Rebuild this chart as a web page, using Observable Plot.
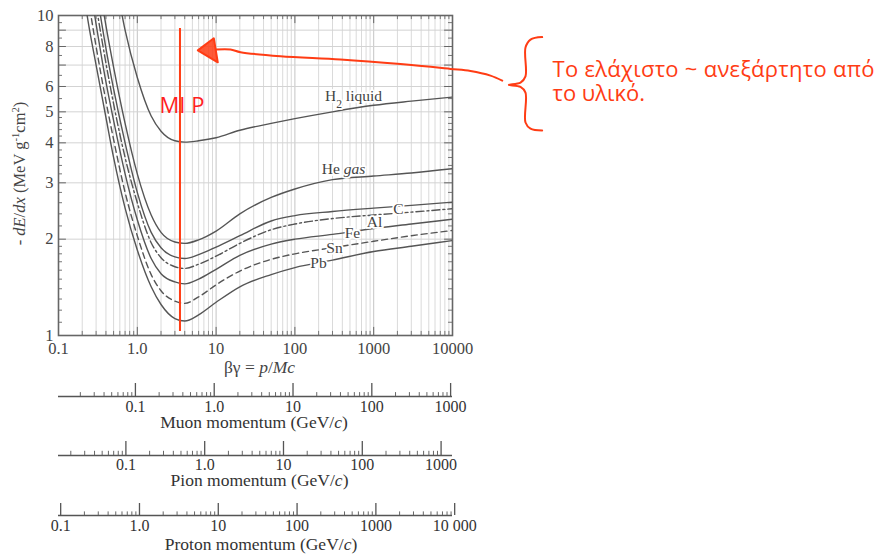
<!DOCTYPE html>
<html><head><meta charset="utf-8">
<script src="https://cdn.jsdelivr.net/npm/d3@7"></script>
<script src="https://cdn.jsdelivr.net/npm/@observablehq/plot@0.6"></script>
<style>
body{margin:0;background:#fff;}
#wrap{position:relative;width:882px;height:557px;overflow:hidden;background:#fff}
#wrap > svg{position:absolute;left:0;}
</style></head><body><div id="wrap"></div>
<script>
// ---- data ----
const betaGamma = [0.2, 0.25, 0.3, 0.4, 0.5, 0.7, 1, 1.5, 2, 3, 4, 6, 10, 20, 50, 100, 300, 1000, 3000, 10000];
const H2 = [65, 44, 30, 19, 14, 9.0, 6.4, 4.85, 4.35, 4.06, 4.02, 4.06, 4.15, 4.38, 4.6, 4.76, 5.0, 5.24, 5.4, 5.56];
const He = [30, 20, 14.5, 9.3, 6.9, 4.6, 3.2, 2.38, 2.1, 1.96, 1.94, 1.99, 2.12, 2.4, 2.7, 2.87, 3.07, 3.15, 3.22, 3.32];
const C  = [25, 16.5, 12.2, 7.9, 5.9, 4.0, 2.8, 2.1, 1.88, 1.76, 1.74, 1.79, 1.89, 2.05, 2.28, 2.37, 2.44, 2.5, 2.55, 2.61];
const Al = [21, 14.5, 10.8, 7.1, 5.3, 3.6, 2.6, 1.95, 1.75, 1.64, 1.62, 1.67, 1.77, 1.94, 2.14, 2.23, 2.32, 2.38, 2.43, 2.49];
const Fe = [18, 12.5, 9.4, 6.2, 4.7, 3.2, 2.3, 1.74, 1.56, 1.47, 1.45, 1.5, 1.61, 1.78, 1.93, 2.0, 2.07, 2.16, 2.23, 2.31];
const Sn = [15, 10.5, 8.0, 5.4, 4.1, 2.8, 2.05, 1.55, 1.38, 1.28, 1.26, 1.32, 1.44, 1.59, 1.73, 1.8, 1.88, 1.97, 2.05, 2.13];
const Pb = [12.5, 8.9, 7.0, 4.8, 3.6, 2.5, 1.85, 1.42, 1.25, 1.13, 1.11, 1.16, 1.27, 1.42, 1.55, 1.63, 1.72, 1.83, 1.9, 1.98];

const materials = ["H2 liquid", "He gas", "C", "Al", "Fe", "Sn", "Pb"];
const series = [H2, He, C, Al, Fe, Sn, Pb];
const dashes = [null, null, null, "8,3,2,3", null, "6,4", null];
const labelBG = [554, 414, 2065, 1023, 538, 318, 199];
const labelDE = [5.62, 3.32, 2.48, 2.27, 2.09, 1.876, 1.685];

const xMajor = [0.1, 1, 10, 100, 1000, 10000];
const xMajorLabels = ["0.1", "1.0", "10", "100", "1000", "10000"];
const yLabels = [1, 2, 3, 4, 5, 6, 8, 10];
const yGrid = [1, 2, 3, 4, 5, 6, 7, 8, 9, 10];
const xTitle = "βγ = p/Mc";
const yTitle = "- dE/dx (MeV g-1cm2)";

// momentum axes
const muonMass = 0.10566, pionMass = 0.13957, protonMass = 0.93827;
const pMajor = [0.1, 1, 10, 100, 1000];
const pMajorLabels = ["0.1", "1.0", "10", "100", "1000"];
const protonMajor = [0.1, 1, 10, 100, 1000, 10000];
const protonMajorLabels = ["0.1", "1.0", "10", "100", "1000", "10 000"];

// annotation (data coordinates)
const mipBG = 3.48, mipTop = 9.1, mipBottom = 1.03;
const mipText = "MI P", mipTextBG = 3.69, mipTextDE = 4.95;
const arrowBG = [42760, 30340, 16910, 9440, 2188, 379, 65.6, 20.4, 15.2, 10.1];
const arrowDE = [6.26, 6.49, 6.71, 6.81, 7.05, 7.29, 7.46, 7.68, 7.83, 7.83];
const headBG = [5.86, 9.35, 10.5, 5.86];
const headDE = [7.78, 8.49, 7.14, 7.78];
const braceBG = [137400, 97700, 84400, 84400, 72950, 51800, 72950, 84400, 84400, 97700, 137400];
const braceDE = [8.56, 8.41, 7.94, 6.45, 6.17, 6.07, 5.98, 5.74, 4.63, 4.43, 4.37];
const noteLines = ["Το ελάχιστο ~ ανεξάρτητο από", "το υλικό."];
const noteBG = 185800, noteDE = [6.42, 5.42];

// ---- helpers ----
const RED = "#ff3c14";
const SERIF = "'Liberation Serif', 'DejaVu Serif', 'Times New Roman', serif";
function minorsIn(lo, hi) {
  const out = [];
  for (let e = -3; e <= 5; e++) for (let k = 2; k <= 9; k++) {
    const v = k * Math.pow(10, e);
    if (v > lo * 1.0001 && v < hi * 0.9999) out.push(v);
  }
  return out;
}
const xMinor = minorsIn(0.1, 10000);
const yMinor = [];
for (let v = 1.1; v < 1.95; v += 0.1) yMinor.push(+v.toFixed(2));
for (let v = 2.2; v < 4.95; v += 0.2) if (Math.abs(v - Math.round(v)) > 0.05) yMinor.push(+v.toFixed(2));
for (let v = 5.5; v < 10; v += 1) yMinor.push(v);

const curveRows = [];
materials.forEach((m, j) => betaGamma.forEach((bg, i) => curveRows.push({material: m, bg, dedx: series[j][i]})));
const xLab = new Map(xMajor.map((d, i) => [d, xMajorLabels[i]]));

const wrap = document.getElementById("wrap");

const curveMarks = materials.map((m, j) =>
  Plot.line(curveRows.filter(r => r.material === m), {
    x: "bg", y: "dedx", stroke: "#555", strokeWidth: 1.4, curve: "monotone-x",
    strokeDasharray: dashes[j] ?? undefined, clip: true
  })
);

const main = Plot.plot({
  width: 882, height: 380, marginLeft: 58, marginRight: 430, marginTop: 15, marginBottom: 45,
  x: {type: "log", domain: [0.1, 10000]},
  y: {type: "log", domain: [1, 10]},
  style: {fontFamily: SERIF, fontSize: "16.5px", color: "#444", background: "transparent", overflow: "visible"},
  marks: [
    Plot.ruleX(xMinor, {stroke: "#dadada", strokeWidth: 1}),
    Plot.ruleX(xMajor, {stroke: "#c4c4c4", strokeWidth: 1}),
    Plot.ruleY(yGrid, {stroke: "#d3d3d3", strokeWidth: 1}),
    // inner ticks
    Plot.ruleX(xMajor, {y1: 1, y2: 1.06, stroke: "#666"}),
    Plot.ruleX(xMinor, {y1: 1, y2: 1.03, stroke: "#777"}),
    Plot.ruleX(xMajor, {y1: 10 / 1.06, y2: 10, stroke: "#666"}),
    Plot.ruleX(xMinor, {y1: 10 / 1.03, y2: 10, stroke: "#777"}),
    Plot.ruleY(yGrid, {x1: 0.1, x2: 0.1 * 1.26, stroke: "#666"}),
    Plot.ruleY(yMinor, {x1: 0.1, x2: 0.1 * 1.124, stroke: "#777"}),
    Plot.ruleY(yGrid, {x1: 10000 / 1.26, x2: 10000, stroke: "#666"}),
    Plot.ruleY(yMinor, {x1: 10000 / 1.124, x2: 10000, stroke: "#777"}),
    Plot.frame({stroke: "#666", strokeWidth: 1.6}),
    ...curveMarks,
    Plot.text(materials, {x: (d, i) => labelBG[i], y: (d, i) => labelDE[i], text: d => d,
      fontSize: 15.5, fill: "#444", stroke: "white", strokeWidth: 3.5}),
    Plot.axisX({ticks: xMajor, tickSize: 0, tickPadding: 7, tickFormat: d => xLab.get(d), label: null}),
    Plot.axisY({ticks: yLabels, tickSize: 0, tickPadding: 5, tickFormat: d => String(d), label: null}),
    Plot.text([xTitle], {text: d => d, frameAnchor: "bottom", dy: 32, dx: 4, fontSize: 17.5, lineAnchor: "middle"}),
    Plot.text([yTitle], {text: d => d, frameAnchor: "left", dx: -39, dy: -2, rotate: -90, fontSize: 16.5,
      textAnchor: "middle", lineAnchor: "middle"}),
    // annotations
    Plot.ruleX([mipBG], {y1: mipBottom, y2: mipTop, stroke: RED, strokeWidth: 2}),
    Plot.text([mipText], {x: mipTextBG, y: mipTextDE, text: d => d, fill: "#ff1f1f",
      fontFamily: "'Open Sans', 'Noto Sans', sans-serif", fontSize: 22, lineAnchor: "bottom"}),
    Plot.line(arrowBG.map((b, i) => ({b, e: arrowDE[i]})), {x: "b", y: "e", stroke: RED, strokeWidth: 2, curve: "catmull-rom"}),
    Plot.line(headBG.map((b, i) => ({b, e: headDE[i]})), {x: "b", y: "e", stroke: RED, strokeWidth: 2, fill: RED, fillOpacity: 0.85}),
    Plot.line(braceBG.map((b, i) => ({b, e: braceDE[i]})), {x: "b", y: "e", stroke: RED, strokeWidth: 2, curve: "catmull-rom"}),
    Plot.text(noteLines, {x: noteBG, y: (d, i) => noteDE[i], text: d => d, fill: RED, textAnchor: "start",
      lineAnchor: "bottom", fontFamily: "'Open Sans', 'Noto Sans', sans-serif", fontSize: 22})
  ]
});
main.style.top = "0px";
wrap.appendChild(main);

function momentumAxis({mass, majors, labels, title, lineY, tickH, labelDy, titleDy, titleDx}) {
  const h = 70;
  const minors = minorsIn(0.1 * mass * 0.999, 10000 * mass);
  const svg = Plot.plot({
    width: 882, height: h, marginLeft: 58, marginRight: 430, marginTop: 5, marginBottom: h - 5 - tickH,
    x: {type: "log", domain: [0.1 * mass, 10000 * mass], axis: null},
    y: {domain: [0, 1], axis: null},
    style: {fontFamily: SERIF, fontSize: "16px", color: "#333", background: "transparent", overflow: "visible"},
    marks: [
      Plot.ruleY([0], {stroke: "#555", strokeWidth: 1.5}),
      Plot.ruleX(majors, {y1: 0, y2: 1, stroke: "#555", strokeWidth: 1.3}),
      Plot.ruleX(minors, {y1: 0, y2: 0.3, stroke: "#666"}),
      Plot.text(majors, {x: d => d, y: 0, text: (d, i) => labels[i], dy: labelDy, lineAnchor: "middle"}),
      Plot.text([title], {text: d => d, frameAnchor: "bottom", dy: titleDy, dx: titleDx, fontSize: 17.5, lineAnchor: "middle"})
    ]
  });
  svg.style.top = (lineY - 5 - tickH) + "px";
  wrap.appendChild(svg);
  return svg;
}
momentumAxis({mass: muonMass, majors: pMajor, labels: pMajorLabels, title: "Muon momentum (GeV/c)", lineY: 396, tickH: 13, labelDy: 10, titleDy: 25.5, titleDx: -1.5});
momentumAxis({mass: pionMass, majors: pMajor, labels: pMajorLabels, title: "Pion momentum (GeV/c)", lineY: 455, tickH: 14, labelDy: 9.5, titleDy: 25, titleDx: 4});
momentumAxis({mass: protonMass, majors: protonMajor, labels: protonMajorLabels, title: "Proton momentum (GeV/c)", lineY: 515, tickH: 12, labelDy: 10, titleDy: 29, titleDx: 5.5});

// rich text (italics, sub/superscripts)
const it = s => `<tspan font-style="italic">${s}</tspan>`;
const sup = s => `<tspan baseline-shift="super" font-size="65%">${s}</tspan>`;
const sub = s => `<tspan baseline-shift="sub" font-size="75%">${s}</tspan>`;
const rich = new Map([
  [xTitle, `βγ = ${it("p")}/${it("Mc")}`],
  [yTitle, `- ${it("dE")}/${it("dx")} (MeV g${sup("-1")}cm${sup("2")})`],
  ["He gas", `He ${it("gas")}`],
  ["H2 liquid", `H${sub("2")} liquid`],
  ["Muon momentum (GeV/c)", `Muon momentum (GeV/${it("c")})`],
  ["Pion momentum (GeV/c)", `Pion momentum (GeV/${it("c")})`],
  ["Proton momentum (GeV/c)", `Proton momentum (GeV/${it("c")})`]
]);
d3.select(wrap).selectAll("text").each(function() {
  const h = rich.get(this.textContent);
  if (h) this.innerHTML = h;
  if (this.textContent === noteLines[0]) {
    this.setAttribute("textLength", "322");
    this.setAttribute("lengthAdjust", "spacing");
  }
});
</script></body></html>
